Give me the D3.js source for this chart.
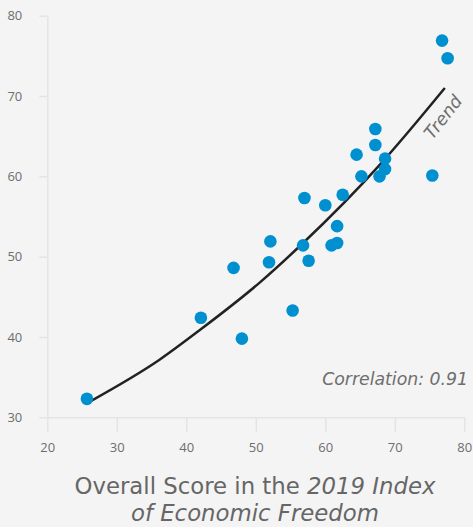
<!DOCTYPE html>
<html>
<head>
<meta charset="utf-8">
<script src="https://cdn.jsdelivr.net/npm/d3@7"></script>
<style>
  body { margin: 0; background: #f4f4f4; }
  svg { display: block; }
</style>
</head>
<body>
<div id="chart"></div>
<script>
// Data
var scoreX = [25.7, 42.1, 46.8, 48.0, 52.1, 51.9, 55.3, 57.0, 56.8, 57.6, 60.0, 60.9, 61.7, 61.7, 62.5, 64.5, 65.2, 67.2, 67.2, 67.8, 68.6, 68.6, 75.4, 76.8, 77.6];
var scoreY = [32.3, 42.4, 48.6, 39.8, 51.9, 49.3, 43.3, 57.3, 51.4, 49.5, 56.4, 51.4, 51.7, 53.8, 57.7, 62.7, 60.0, 65.9, 63.9, 60.0, 62.2, 60.9, 60.1, 76.9, 74.7];

// Trend line
var trendX = [26.0, 36.2, 42.0, 50.6, 56.8, 67.9, 77.2];
var trendY = [31.9, 37.2, 40.9, 46.8, 51.7, 61.5, 71.0];

var xTicks = [20, 30, 40, 50, 60, 70, 80];
var yTicks = [30, 40, 50, 60, 70, 80];

var width = 473;
var height = 527;
var textFont = "'DejaVu Sans', sans-serif";

var svg = d3
  .select("#chart")
  .append("svg")
  .attr("width", width)
  .attr("height", height);

var x = d3.scaleLinear().domain([20, 80]).range([47.3, 464.3]);
var y = d3.scaleLinear().domain([30, 80]).range([417.3, 15.7]);

// X axis
var xAxis = svg
  .append("g")
  .attr("transform", "translate(0," + y(30) + ")")
  .call(d3.axisBottom(x).tickValues(xTicks).tickSize(15).tickSizeOuter(0).tickPadding(10));

// Y axis
var yAxis = svg
  .append("g")
  .attr("transform", "translate(" + x(20) + ",0)")
  .call(d3.axisLeft(y).tickValues(yTicks).tickSize(8).tickSizeOuter(0).tickPadding(17));

[xAxis, yAxis].forEach(function (g) {
  g.selectAll("path, line").attr("stroke", "#e4e4e4").attr("stroke-width", 1.5);
  g.selectAll("text")
    .attr("fill", "#6e6e6e")
    .style("font-family", "'Open Sans', sans-serif")
    .style("font-size", "13px");
});

// Trend line
var trendPoints = trendX.map(function (d, i) {
  return [d, trendY[i]];
});

svg
  .append("path")
  .datum(trendPoints)
  .attr("fill", "none")
  .attr("stroke", "#222")
  .attr("stroke-width", 2.5)
  .attr(
    "d",
    d3
      .line()
      .x(function (d) { return x(d[0]); })
      .y(function (d) { return y(d[1]); })
      .curve(d3.curveMonotoneX)
  );

// Points
svg
  .selectAll("circle")
  .data(scoreX)
  .enter()
  .append("circle")
  .attr("cx", function (d) { return x(d); })
  .attr("cy", function (d, i) { return y(scoreY[i]); })
  .attr("r", 6.3)
  .attr("fill", "#0090d0");

// Trend label
svg
  .append("text")
  .attr("transform", "translate(443,117) rotate(-52)")
  .attr("text-anchor", "middle")
  .attr("dy", "0.35em")
  .attr("fill", "#6e6e6e")
  .style("font-family", textFont)
  .style("font-style", "italic")
  .style("font-size", "17.5px")
  .text("Trend");

// Correlation label
svg
  .append("text")
  .attr("x", 468)
  .attr("y", 385)
  .attr("text-anchor", "end")
  .attr("fill", "#6e6e6e")
  .style("font-family", textFont)
  .style("font-style", "italic")
  .style("font-size", "17.3px")
  .text("Correlation: 0.91");

// Axis title
var title = svg
  .append("text")
  .attr("x", 255)
  .attr("text-anchor", "middle")
  .attr("fill", "#666")
  .style("font-family", textFont)
  .style("font-size", "22.8px");

var line1 = title.append("tspan").attr("x", 255).attr("y", 494);
line1.append("tspan").text("Overall Score in the ");
line1.append("tspan").style("font-style", "italic").text("2019 Index");

title
  .append("tspan")
  .attr("x", 255)
  .attr("y", 521)
  .style("font-style", "italic")
  .text("of Economic Freedom");
</script>
</body>
</html>
